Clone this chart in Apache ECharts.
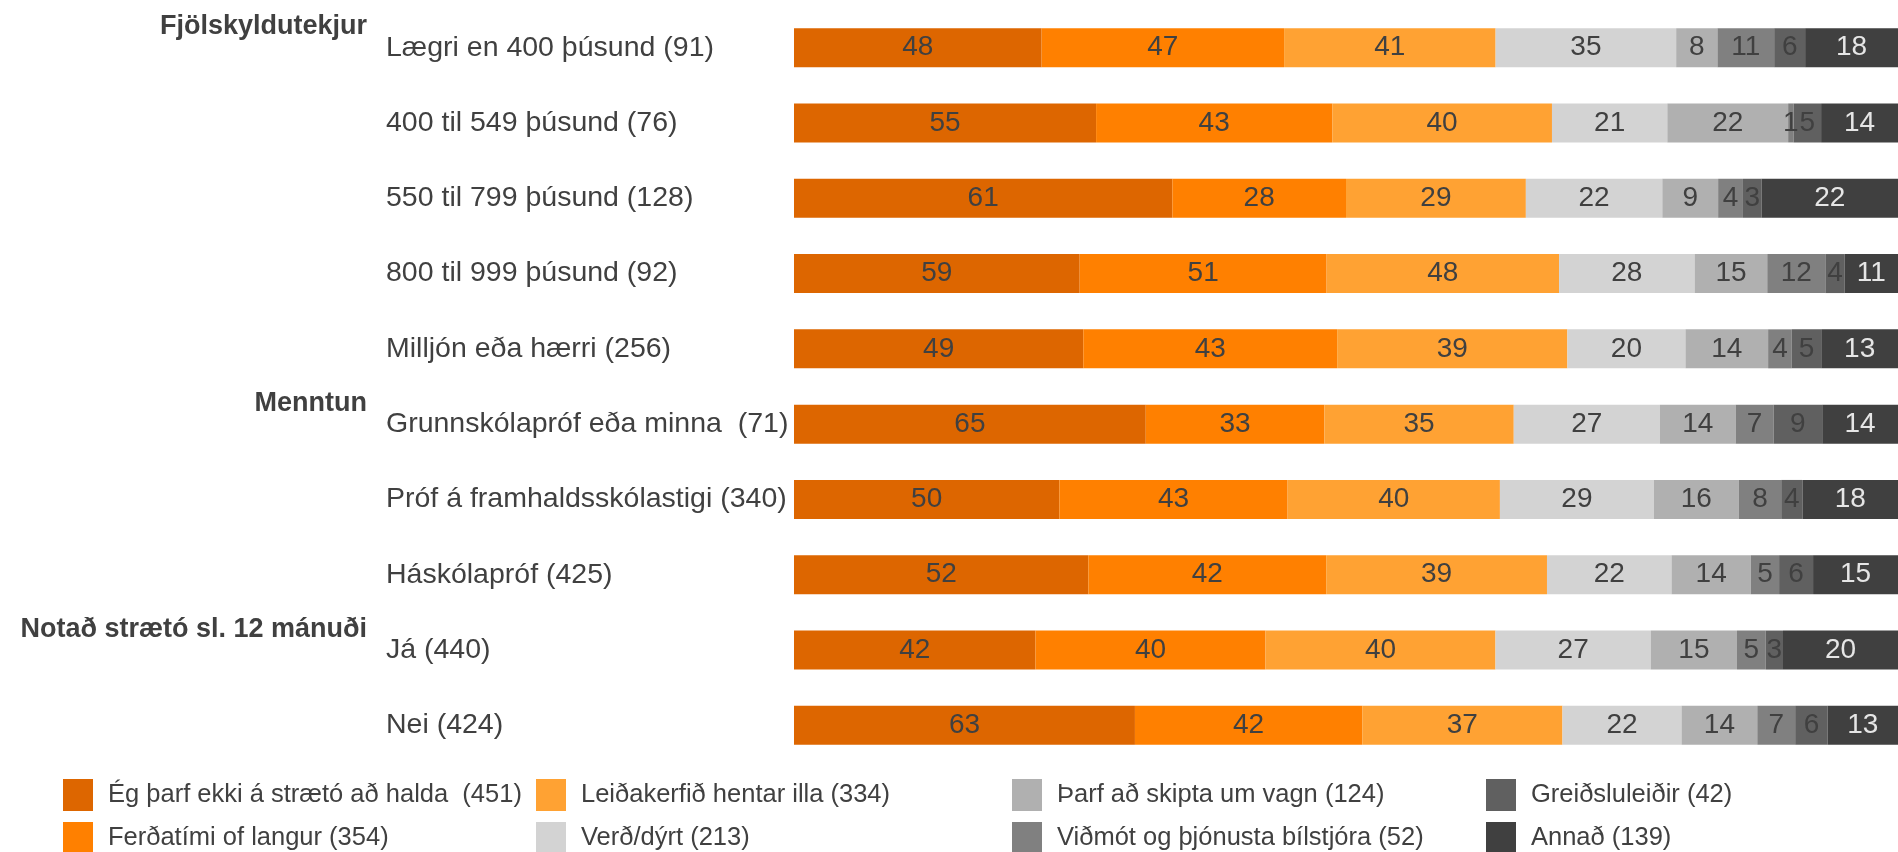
<!DOCTYPE html>
<html>
<head>
<meta charset="utf-8">
<script src="https://cdn.jsdelivr.net/npm/echarts@6/dist/echarts.min.js"></script>
<style>
html,body{margin:0;padding:0;background:#fff;}
#chart{width:1898px;height:852px;}
</style>
</head>
<body>
<div id="chart"></div>
<script>
const categories = [
  'Lægri en 400 þúsund (91)',
  '400 til 549 þúsund (76)',
  '550 til 799 þúsund (128)',
  '800 til 999 þúsund (92)',
  'Milljón eða hærri (256)',
  'Grunnskólapróf eða minna  (71)',
  'Próf á framhaldsskólastigi (340)',
  'Háskólapróf (425)',
  'Já (440)',
  'Nei (424)'
];
const groupHeaders = [
  { name: 'Fjölskyldutekjur', at: 'Lægri en 400 þúsund (91)' },
  { name: 'Menntun', at: 'Grunnskólapróf eða minna  (71)' },
  { name: 'Notað strætó sl. 12 mánuði', at: 'Já (440)' }
];
const seriesNames = [
  'Ég þarf ekki á strætó að halda  (451)',
  'Ferðatími of langur (354)',
  'Leiðakerfið hentar illa (334)',
  'Verð/dýrt (213)',
  'Þarf að skipta um vagn (124)',
  'Viðmót og þjónusta bílstjóra (52)',
  'Greiðsluleiðir (42)',
  'Annað (139)'
];
const egTharfEkki   = [48, 55, 61, 59, 49, 65, 50, 52, 42, 63];
const ferdatimi     = [47, 43, 28, 51, 43, 33, 43, 42, 40, 42];
const leidakerfid   = [41, 40, 29, 48, 39, 35, 40, 39, 40, 37];
const verdDyrt      = [35, 21, 22, 28, 20, 27, 29, 22, 27, 22];
const skiptaVagn    = [8, 22, 9, 15, 14, 14, 16, 14, 15, 14];
const vidmot        = [11, 1, 4, 12, 4, 7, 8, 5, 5, 7];
const greidsluleidir= [6, 5, 3, 4, 5, 9, 4, 6, 3, 6];
const annad         = [18, 14, 22, 11, 13, 14, 18, 15, 20, 13];

const seriesValues = [egTharfEkki, ferdatimi, leidakerfid, verdDyrt, skiptaVagn, vidmot, greidsluleidir, annad];
const colors = ['#DD6600', '#FF8000', '#FFA233', '#D3D3D3', '#B0B0B0', '#808080', '#606060', '#404040'];
const labelColors = ['#404040','#404040','#404040','#404040','#404040','#404040','#404040','#E6E6E6'];

const FONT = '"Liberation Sans", Arial, sans-serif';
const rowTotals = categories.map((_, i) => seriesValues.reduce((s, arr) => s + arr[i], 0));

const series = seriesValues.map((arr, si) => ({
  name: seriesNames[si],
  type: 'bar',
  stack: 'all',
  barWidth: 39,
  itemStyle: { color: colors[si] },
  emphasis: { disabled: true },
  label: {
    show: true,
    position: 'inside',
    color: labelColors[si],
    fontSize: 28,
    fontFamily: FONT,
    formatter: p => String(arr[p.dataIndex])
  },
  data: arr.map((v, i) => v / rowTotals[i] * 100)
}));

const legendCols = [[0, 1], [2, 3], [4, 5], [6, 7]];
const legendLeft = [63, 536, 1012, 1486];
const legends = legendCols.map((idx, ci) => ({
  orient: 'vertical',
  left: legendLeft[ci],
  top: 779,
  height: 100,
  itemWidth: 30,
  itemHeight: 32,
  itemGap: 11,
  icon: 'rect',
  selectedMode: false,
  padding: 0,
  textStyle: { fontSize: 25.5, color: '#404040', fontFamily: FONT, padding: [0, 0, 0, 10] },
  data: idx.map(i => seriesNames[i])
}));

const chart = echarts.init(document.getElementById('chart'));
chart.setOption({
  animation: false,
  backgroundColor: '#ffffff',
  grid: { left: 794, right: 0, top: 10, bottom: 89 },
  xAxis: { type: 'value', min: 0, max: 100, show: false },
  yAxis: {
    type: 'category',
    inverse: true,
    data: categories,
    axisLine: { show: false },
    axisTick: { show: false },
    axisLabel: {
      align: 'left',
      margin: 408,
      fontSize: 28.5,
      color: '#404040',
      fontFamily: FONT
    }
  },
  legend: legends,
  series: series
});

const graphics = groupHeaders.map(g => {
  const y = chart.convertToPixel({ yAxisIndex: 0 }, g.at);
  return {
    type: 'text',
    x: 367,
    y: y - 21,
    style: {
      text: g.name,
      fontSize: 27,
      fontWeight: 'bold',
      fontFamily: FONT,
      fill: '#404040',
      align: 'right',
      verticalAlign: 'middle'
    }
  };
});
chart.setOption({ graphic: graphics });
</script>
</body>
</html>
